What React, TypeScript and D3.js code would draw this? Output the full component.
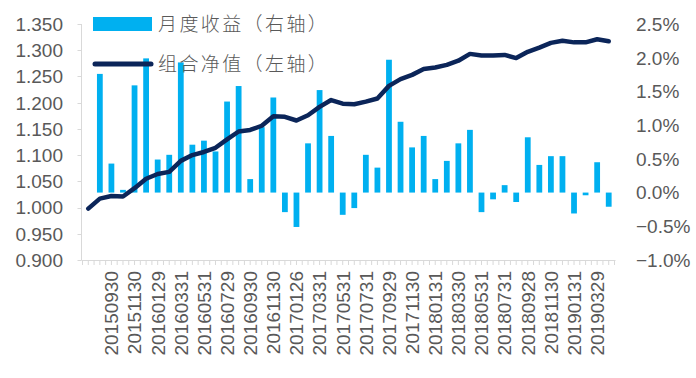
import React from "react";
import * as d3 from "d3";

const dates = [
  "20150731","20150831","20150930","20151030","20151130","20151231",
  "20160129","20160229","20160331","20160429","20160531","20160630",
  "20160729","20160831","20160930","20161031","20161130","20161230",
  "20170126","20170228","20170331","20170428","20170531","20170630",
  "20170731","20170831","20170929","20171031","20171130","20171229",
  "20180131","20180228","20180330","20180427","20180531","20180629",
  "20180731","20180831","20180928","20181031","20181130","20181228",
  "20190131","20190228","20190329","20190430",
];

// monthly return, % (right axis); first point has no bar
const monthlyReturn: (number | null)[] = [
  null, 1.76, 0.43, 0.04, 1.59, 1.99, 0.49, 0.56, 1.93, 0.71, 0.77, 0.61,
  1.35, 1.58, 0.20, 0.97, 1.41, -0.29, -0.51, 0.73, 1.52, 0.84, -0.33, -0.23,
  0.56, 0.37, 1.97, 1.05, 0.67, 0.84, 0.20, 0.47, 0.73, 0.93, -0.29, -0.10,
  0.11, -0.14, 0.82, 0.41, 0.54, 0.54, -0.31, -0.04, 0.45, -0.21,
];

// portfolio NAV (left axis)
const nav = [
  0.998, 1.017, 1.022, 1.021, 1.037, 1.055, 1.064, 1.068, 1.089, 1.100, 1.106, 1.114,
  1.130, 1.145, 1.148, 1.156, 1.174, 1.173, 1.166, 1.176, 1.192, 1.205, 1.198, 1.197,
  1.202, 1.208, 1.232, 1.245, 1.253, 1.264, 1.267, 1.272, 1.280, 1.293, 1.290, 1.290,
  1.291, 1.285, 1.297, 1.305, 1.314, 1.318, 1.315, 1.315, 1.321, 1.317,
];

const leftTicks = [0.9, 0.95, 1.0, 1.05, 1.1, 1.15, 1.2, 1.25, 1.3, 1.35];
const rightTicks = [-1.0, -0.5, 0.0, 0.5, 1.0, 1.5, 2.0, 2.5];
const legendLabels = ["月度收益（右轴）", "组合净值（左轴）"];

const BAR_COLOR = "#00b0f0";
const LINE_COLOR = "#0b2559";
const TEXT_COLOR = "#595959";
const AXIS_COLOR = "#d9d9d9";
const NUM_FONT = "'Liberation Sans', Arial, sans-serif";
const CJK_FONT = "'Noto Sans CJK SC', sans-serif";

export default function App() {
  const W = 696, H = 378;
  const x0 = 82.5, x1 = 614.5, yTop = 24, yBot = 260;
  const idx = dates.map((_, i) => i);
  const x = d3.scaleBand<number>().domain(idx).range([x0, x1]).padding(0);
  const bw = x.bandwidth();
  const cx = (i: number) => (x(i) as number) + bw / 2;
  const yL = d3.scaleLinear().domain([0.9, 1.35]).range([yBot, yTop]);
  const yR = d3.scaleLinear().domain([-1.0, 2.5]).range([yBot, yTop]);
  const barW = bw * 0.5;
  const line = d3.line<number>().x((_, i) => cx(i)).y((d) => yL(d)).curve(d3.curveLinear);

  const halfTicks: number[] = [];
  for (let k = 0; k <= dates.length * 2; k++) halfTicks.push(x0 + (k * bw) / 2);

  return (
    <svg width={W} height={H} style={{ position: "absolute", left: 0, top: 0, background: "#fff" }}>
      {/* axes */}
      <line x1={x0 - 1} x2={x0 - 1} y1={yTop} y2={yBot} stroke={AXIS_COLOR} strokeWidth={1} />
      {leftTicks.map((t) => (
        <line key={"lt" + t} x1={x0 - 5} x2={x0 - 1} y1={Math.round(yL(t)) + 0.5} y2={Math.round(yL(t)) + 0.5} stroke={AXIS_COLOR} />
      ))}
      <line x1={x0 - 1} x2={x1 + 1} y1={yBot + 0.5} y2={yBot + 0.5} stroke={AXIS_COLOR} strokeWidth={1} />
      {halfTicks.map((t, k) => (
        <line key={"bt" + k} x1={t} x2={t} y1={yBot} y2={yBot + 5} stroke={AXIS_COLOR} />
      ))}

      {/* bars */}
      {monthlyReturn.map((v, i) =>
        v == null ? null : (
          <rect
            key={"b" + i}
            x={cx(i) - barW / 2}
            width={barW}
            y={Math.min(yR(v), yR(0))}
            height={Math.abs(yR(v) - yR(0))}
            fill={BAR_COLOR}
          />
        )
      )}

      {/* line */}
      <path d={line(nav) || ""} fill="none" stroke={LINE_COLOR} strokeWidth={4.5} strokeLinejoin="round" strokeLinecap="round" />

      {/* left tick labels */}
      {leftTicks.map((t) => (
        <text key={"ll" + t} x={63} y={yL(t)} dy="0.36em" textAnchor="end" fontSize={19} fontFamily={NUM_FONT} fill={TEXT_COLOR}>
          {d3.format(".3f")(t)}
        </text>
      ))}
      {/* right tick labels */}
      {rightTicks.map((t) => (
        <text key={"rl" + t} x={636} y={yR(t)} dy="0.36em" textAnchor="start" fontSize={19} fontFamily={NUM_FONT} fill={TEXT_COLOR}>
          {d3.format(".1f")(t) + "%"}
        </text>
      ))}
      {/* x labels */}
      {dates.map((d, i) =>
        i % 2 === 0 && i > 0 ? (
          <text
            key={"xl" + i}
            transform={`translate(${cx(i)},${271}) rotate(-90)`}
            dy="0.36em"
            textAnchor="end"
            fontSize={19}
            fontFamily={NUM_FONT}
            fill={TEXT_COLOR}
          >
            {d}
          </text>
        ) : null
      )}

      {/* legend */}
      <rect x={93} y={17} width={59} height={14} fill={BAR_COLOR} />
      <text x={158} y={24} dy="0.36em" fontSize={19} fontWeight={300} letterSpacing={2.4} fontFamily={CJK_FONT} fill={TEXT_COLOR}>
        {legendLabels[0]}
      </text>
      <line x1={95} x2={151} y1={64} y2={64} stroke={LINE_COLOR} strokeWidth={5} strokeLinecap="round" />
      <text x={158} y={64} dy="0.36em" fontSize={19} fontWeight={300} letterSpacing={2.4} fontFamily={CJK_FONT} fill={TEXT_COLOR}>
        {legendLabels[1]}
      </text>
    </svg>
  );
}
